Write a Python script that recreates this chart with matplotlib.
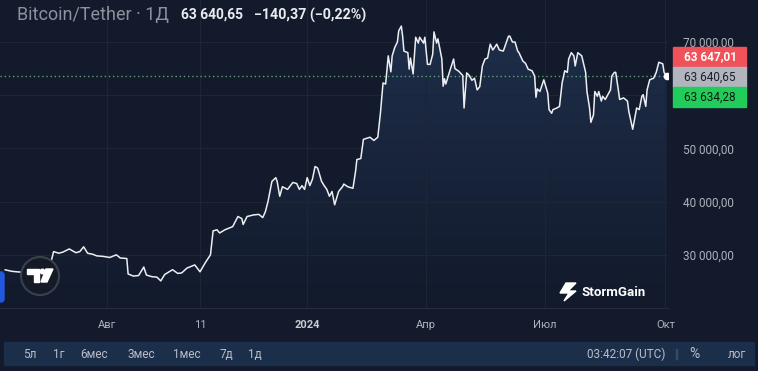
import matplotlib
matplotlib.use("Agg")
import matplotlib.pyplot as plt
import matplotlib.dates as mdates
from matplotlib.colors import LinearSegmentedColormap
from matplotlib.patches import Rectangle, Circle, Polygon, PathPatch, FancyBboxPatch
from matplotlib.ticker import FuncFormatter
from matplotlib.transforms import IdentityTransform
import numpy as np
import pandas as pd

# Bitcoin/Tether daily, values (days counted from 2024-01-01)
days = [-231, -226, -222, -205, -198, -194, -190, -187, -182, -177, -174, -171,
        -168, -164, -161, -156, -151, -146, -143, -138, -137, -133, -129, -125,
        -123, -119, -115, -112, -109, -103, -99, -96, -92, -90, -86, -82, -78,
        -74, -72, -69, -67, -63, -59, -57, -53, -50, -49, -46, -41, -37, -34,
        -32, -30, -27, -24, -23, -21, -19, -15, -11, -8, -6, -4, -2, 0, 2, 4, 6,
        8, 11, 13, 15, 17, 19, 21, 24, 27, 28, 31, 35, 37, 38, 41, 43, 48, 51,
        54, 56, 58, 60, 62, 64, 65, 67, 69, 70, 72, 73, 74, 77, 78, 79, 81, 83,
        85, 86, 89, 90, 92, 94, 96, 97, 99, 100, 103, 104, 105, 106, 109, 112,
        113, 116, 119, 120, 122, 124, 126, 128, 130, 132, 134, 136, 138, 140,
        142, 145, 147, 150, 151, 154, 155, 157, 159, 161, 162, 165, 167, 169,
        172, 174, 175, 176, 178, 181, 184, 185, 187, 188, 191, 193, 195, 197,
        199, 200, 202, 204, 205, 207, 210, 213, 214, 216, 217, 219, 220, 222,
        223, 225, 226, 228, 230, 232, 233, 235, 236, 238, 239, 242, 245, 246,
        249, 250, 252, 254, 256, 257, 259, 260, 262, 265, 267, 269, 272, 273, 275]
prices = [27170, 26900, 26800, 26500, 26700, 30600, 30300, 30500, 31100, 30400,
          30600, 31500, 30300, 30100, 29800, 29700, 29500, 30000, 29400, 29300,
          26400, 26000, 26100, 27700, 26200, 25900, 25800, 25100, 26300, 27200,
          26500, 26600, 27500, 27700, 28100, 26800, 28500, 30000, 34500, 34700,
          34100, 34700, 35100, 35300, 37200, 36800, 35700, 37200, 37500, 37600,
          37000, 38100, 40000, 43800, 44500, 43800, 41000, 42800, 42300, 43600,
          43400, 42300, 43000, 42300, 44500, 43000, 44200, 46600, 46300, 43800,
          43000, 42300, 41000, 41900, 39400, 41900, 42800, 43300, 42800, 42500,
          45700, 47900, 48100, 51700, 52100, 51500, 52100, 56600, 62300, 62100,
          67400, 64400, 67400, 69000, 70000, 72100, 73000, 71100, 68300, 68000,
          64900, 67000, 64000, 70900, 69800, 70900, 69800, 70900, 65800, 65800,
          67700, 71900, 69800, 70600, 66800, 61700, 63100, 62100, 64500, 66800,
          65000, 64500, 63700, 57600, 64200, 63700, 62800, 63200, 61000, 61600,
          65500, 66800, 67000, 69600, 68500, 69600, 68500, 68300, 69000, 71100,
          71100, 70000, 70000, 68300, 68000, 66400, 66000, 64900, 64600, 63600,
          59600, 61200, 60700, 62900, 60400, 57300, 56600, 57300, 57600, 57900,
          62300, 64600, 64300, 66800, 68000, 67400, 65500, 68000, 67400, 64300,
          60700, 57600, 54900, 56300, 60700, 59800, 60700, 58900, 59800, 59200,
          60100, 61000, 63600, 64300, 64300, 61000, 59200, 59500, 58900, 57000,
          53600, 54900, 57600, 57300, 59800, 60100, 57900, 61000, 62900, 63200,
          64300, 66200, 65900, 64300, 63640]

y_ticks = [30000, 40000, 50000, 60000, 70000]
x_tick_dates = ["2023-08-01", "2023-10-11", "2024-01-01", "2024-04-01", "2024-07-01", "2024-10-01"]
x_tick_labels = ["Авг", "11", "2024", "Апр", "Июл", "Окт"]
last_price = 63640.65
quotes = [63647.01, 63640.65, 63634.28]
change = -140.37
change_pct = -0.22
ranges = ["5л", "1г", "6мес", "3мес", "1мес", "7д", "1д"]
clock = "03:42:07 (UTC)"

BG = "#121a2b"
TXT = "#aeb2bc"
plt.rcParams["font.family"] = ["Roboto", "DejaVu Sans"]

W, H = 758, 371


def fx(px):
    return px / W


def fy(py):
    return 1 - py / H


def ru(v):
    return f"{v:,.2f}".replace(",", " ").replace(".", ",").replace("-", "−")


dates = pd.Timestamp("2024-01-01") + pd.to_timedelta(days, unit="D")
x_lo = pd.Timestamp("2024-01-01") + pd.Timedelta(days=-235)
x_hi = pd.Timestamp("2024-01-01") + pd.Timedelta(days=276)
y_lo, y_hi = 20000, 77900

fig = plt.figure(figsize=(W / 100, H / 100), dpi=100, facecolor=BG)
ax = fig.add_axes([0, fy(308), fx(668), 308 / H])
ax.set_facecolor(BG)

# gradient area under the line
fill = ax.fill_between(dates, prices, y_lo, color="none", lw=0)
path = fill.get_paths()[0]
cmap = LinearSegmentedColormap.from_list("area", [BG, "#1e2e4a"])
grad = np.linspace(1, 0, 256).reshape(-1, 1)
im = ax.imshow(grad, cmap=cmap, aspect="auto", origin="upper", zorder=1,
               extent=[mdates.date2num(x_lo), mdates.date2num(x_hi), y_lo, max(prices)])
im.set_clip_path(PathPatch(path, transform=ax.transData))

ax.plot(dates, prices, color="#eceef2", lw=1.1, zorder=3)
ax.axhline(last_price, color="#5f9e6e", lw=1, ls=(0, (1, 2)), zorder=2)
ax.plot(dates[-1], prices[-1], "o", color="white", ms=4.5, zorder=4)

ax.set_xlim(x_lo, x_hi)
ax.set_ylim(y_lo, y_hi)
ax.set_yticks(y_ticks)
# 60 000 label sits under the price tags, so it is left blank
ax.yaxis.set_major_formatter(FuncFormatter(lambda v, p: "" if v == 60000 else ru(v)))
ax.yaxis.tick_right()
ax.tick_params(axis="y", length=0, pad=11, labelsize=8.5, labelcolor=TXT)
ax.set_xticks(pd.to_datetime(x_tick_dates))
ax.set_xticklabels(x_tick_labels)
ax.tick_params(axis="x", length=0, pad=9, labelsize=8, labelcolor=TXT)
ax.get_xticklabels()[2].set_fontweight("bold")
ax.get_xticklabels()[2].set_color("#c9ccd3")
ax.grid(True, color="#1e2536", lw=0.8)
for s in ["top", "left", "right"]:
    ax.spines[s].set_visible(False)
ax.spines["bottom"].set_color("#262d3d")

# price tags on the right scale
tag_cols = ["#f0525a", "#b2b5be", "#22cc5a"]
tag_txt = ["white", "#1a1f2b", "#0e1a10"]
tag_top = [47, 67, 87]
for q, c, tc, t in zip(quotes, tag_cols, tag_txt, tag_top):
    fig.add_artist(Rectangle((fx(673), fy(t + 20)), 73 / W, 20 / H,
                             transform=fig.transFigure, color=c, zorder=5))
    fig.text(fx(710), fy(t + 10), ru(q), color=tc, fontsize=8.5, ha="center",
             va="center", zorder=6, fontweight="bold" if tc == "white" else "normal")

# header
fig.text(fx(17), fy(15), "Bitcoin/Tether · 1Д", color="#8c919d", fontsize=13, va="center")
fig.text(fx(181), fy(15), ru(last_price), color="#e9ebef", fontsize=10,
         fontweight="bold", va="center")
fig.text(fx(254), fy(15), f"{ru(change)} ({ru(change_pct)}%)",
         color="#e9ebef", fontsize=10.3, fontweight="bold", va="center")

# TradingView badge (pixel coordinates, origin bottom-left)
px = IdentityTransform()
fig.add_artist(Circle((40, H - 276), 19, transform=px,
                      facecolor="#141a26", edgecolor="#3b404c", lw=1.5, zorder=5))
fig.add_artist(Polygon([(27, H - 269), (39, H - 269), (39, H - 282),
                        (34, H - 282), (34, H - 274), (27, H - 274)],
                       transform=px, color="white", zorder=6))
fig.add_artist(Circle((42.5, H - 271.5), 2.3, transform=px, color="white", zorder=6))
fig.add_artist(Polygon([(46, H - 269), (53, H - 269), (47, H - 282), (41, H - 282)],
                       transform=px, color="white", zorder=6))
fig.add_artist(FancyBboxPatch((-4, H - 302), 8, 30, boxstyle="round,pad=0,rounding_size=3",
                              transform=px, color="#2458e0", zorder=5))

# StormGain mark
fig.add_artist(Polygon([(566, H - 283), (576, H - 283), (568, H - 291),
                        (576, H - 291), (564, H - 301), (569, H - 293),
                        (560, H - 293)], transform=px, color="white", zorder=6))
fig.text(fx(582), fy(292), "StormGain", color="white", fontsize=9.5,
         fontweight="bold", va="center")

# bottom toolbar
fig.add_artist(Rectangle((fx(4), fy(365)), 750 / W, 23 / H, transform=fig.transFigure,
                         color="#1c2f4a", zorder=5))
for lab, xp in zip(ranges, [30, 59, 94, 141, 187, 226, 255]):
    fig.text(fx(xp), fy(354), lab, color="#b9bdc7", fontsize=8.5, ha="center",
             va="center", zorder=6)
fig.text(fx(665), fy(354), clock, color="#b9bdc7", fontsize=8.5, ha="right",
         va="center", zorder=6)
fig.add_artist(Rectangle((fx(676), fy(359)), 1 / W, 10 / H, transform=fig.transFigure,
                         color="#3a4a63", zorder=6))
fig.text(fx(694), fy(354), "%", color="#b9bdc7", fontsize=10, ha="center", va="center", zorder=6)
fig.text(fx(737), fy(354), "лог", color="#b9bdc7", fontsize=8.5, ha="center", va="center", zorder=6)

fig.savefig("out.png", dpi=100, facecolor=BG)
